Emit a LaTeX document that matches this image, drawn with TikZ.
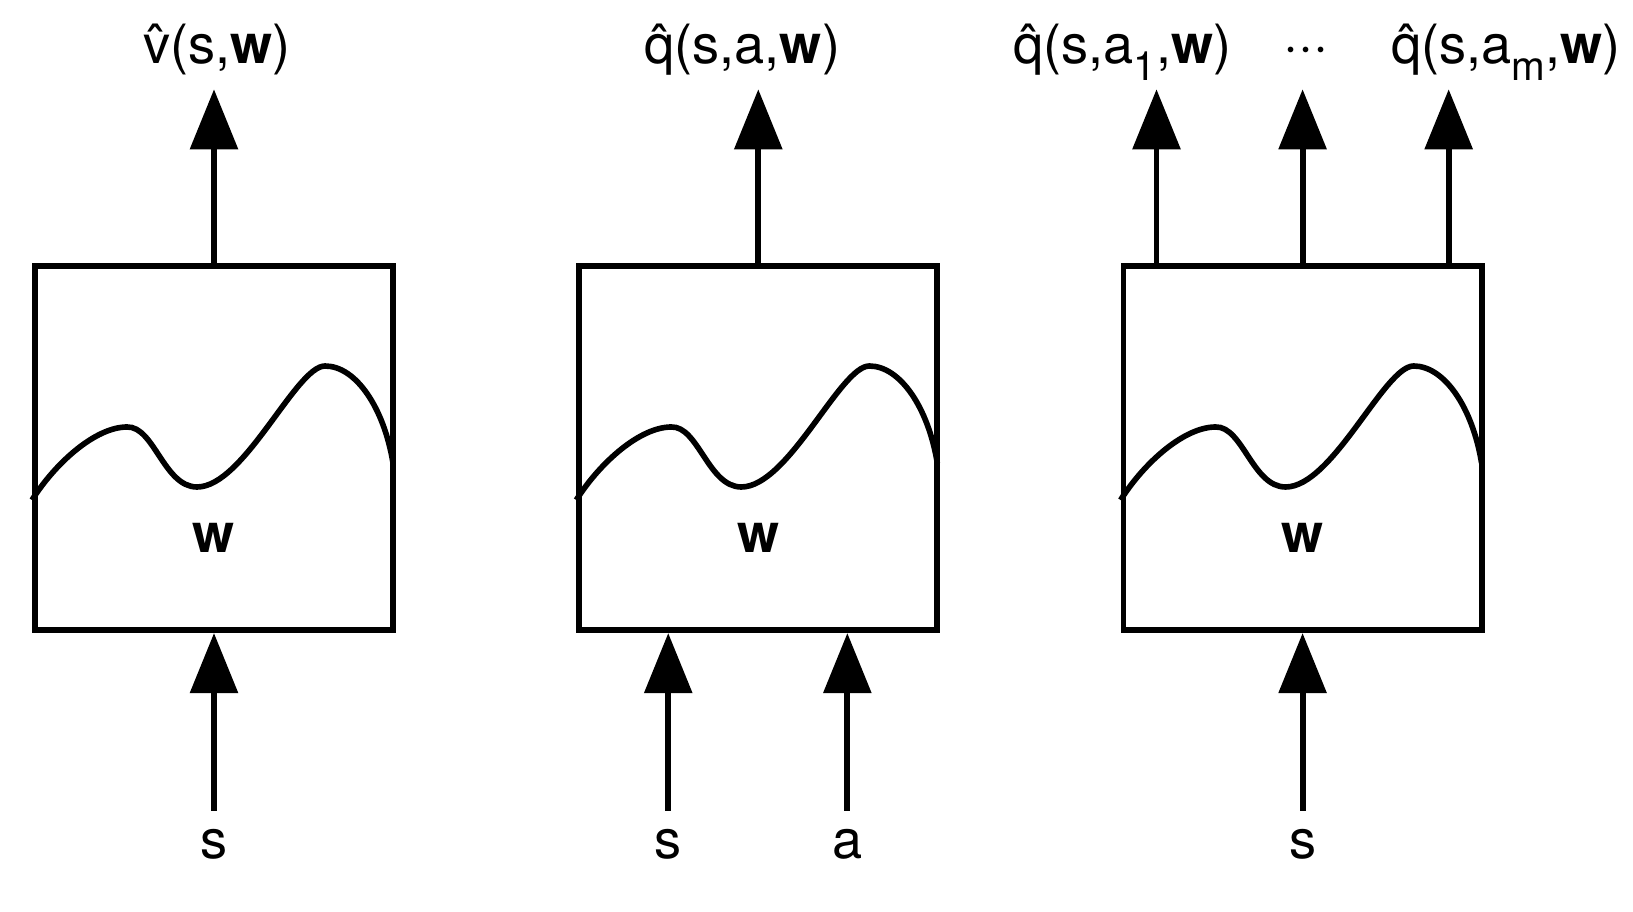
\documentclass[tikz,border=0pt]{standalone}
\usepackage{fontspec}
\setmainfont{TeX Gyre Heros}
\usetikzlibrary{arrows.meta,positioning}

\newcommand\lowsub[1]{\raisebox{-0.32em}{\fontsize{11.5}{12}\selectfont #1}}

\begin{document}
\begin{tikzpicture}[x=0.01cm,y=0.01cm,>={Triangle[length=6mm,width=4.7mm]},
        line width=1.7pt, font=\fontsize{15.4}{18}\selectfont,
        netbox/.style={draw, minimum width=3.58cm, minimum height=3.64cm, inner sep=0},
        outlabel/.style={inner sep=0, text height=0.45cm, text depth=0.23cm},
        inlabel/.style={inner sep=0.17cm, text height=0.28cm, text depth=0},
        flow/.style={->},
        curve/.style={line width=1.6pt}]

  \useasboundingbox (0,0) rectangle (1633,912);

  \node[netbox] (box1) at (214,464) {};
  \node[netbox] (box2) [right=1.8cm of box1] {};
  \node[netbox] (box3) [right=1.8cm of box2] {};

  \node (w1) at ([yshift=-0.9cm]box1.center) {\textbf{w}};
  \node (w2) at ([yshift=-0.9cm]box2.center) {\textbf{w}};
  \node (w3) at ([yshift=-0.9cm]box3.center) {\textbf{w}};

  \foreach \b in {box1,box2,box3}
    \draw[curve, shift={(\b.center)}] (-182,-52) .. controls (-158,-14) and (-118,21) .. (-87,21)
          .. controls (-60,22) and (-50,-39) .. (-17,-39)
          .. controls (30,-39) and (82,82) .. (111,82)
          .. controls (142,82) and (170,40) .. (179,-15);

  % outputs
  \node[outlabel] (v1) [above=1.735cm of box1, xshift=0.03cm] {\^{v}(s,\textbf{w})};
  \node[outlabel] (q2) [above=1.735cm of box2, xshift=-0.16cm] {\^{q}(s,a,\textbf{w})};
  \node[outlabel] (q3a) [above=1.735cm of box3, xshift=-1.8cm] {\^{q}(s,a\lowsub{1},\textbf{w})};
  \node[outlabel] (dots3) [above=1.735cm of box3, xshift=0.03cm] {···};
  \node[outlabel] (q3m) [above=1.735cm of box3, xshift=2.03cm] {\^{q}(s,a\lowsub{m},\textbf{w})};

  \coordinate (o3a) at ([xshift=-1.46cm]box3.north);
  \coordinate (o3m) at ([xshift=1.46cm]box3.north);

  \draw[flow] (box1.north) -- (box1.north |- v1.south);
  \draw[flow] (box2.north) -- (box2.north |- q2.south);
  \draw[flow] (o3a) -- (o3a |- q3a.south);
  \draw[flow] (box3.north) -- (box3.north |- dots3.south);
  \draw[flow] (o3m) -- (o3m |- q3m.south);

  % inputs
  \node[inlabel] (s1) [below=1.775cm of box1] {s};
  \node[inlabel] (s2) [below=1.775cm of box2, xshift=-0.9cm] {s};
  \node[inlabel] (a2) [below=1.775cm of box2, xshift=0.89cm] {a};
  \node[inlabel] (s3) [below=1.775cm of box3] {s};

  \draw[flow] (s1.north) -- (s1.north |- box1.south);
  \draw[flow] (s2.north) -- (s2.north |- box2.south);
  \draw[flow] (a2.north) -- (a2.north |- box2.south);
  \draw[flow] (s3.north) -- (s3.north |- box3.south);

\end{tikzpicture}
\end{document}
